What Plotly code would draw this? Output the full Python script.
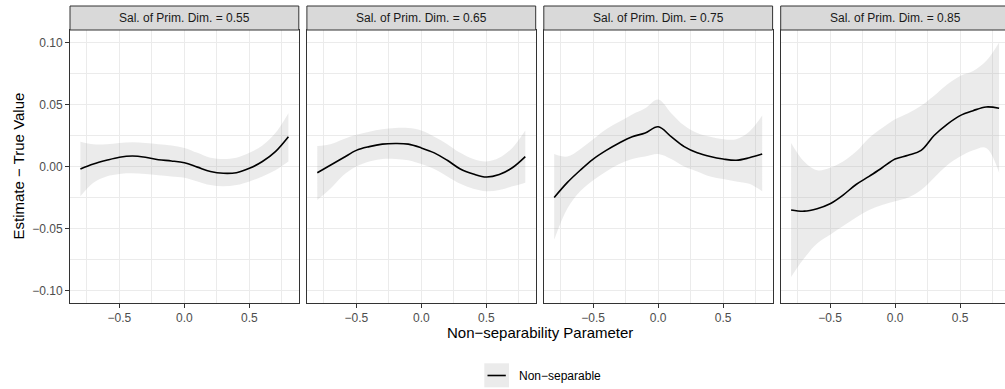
import plotly.graph_objects as go

# ---------------- data ----------------
x_vals = [-0.8, -0.7, -0.6, -0.5, -0.4, -0.3, -0.2, -0.1, 0.0,
          0.1, 0.2, 0.3, 0.4, 0.5, 0.6, 0.7, 0.8]

panel_labels = ["Sal. of Prim. Dim. = 0.55", "Sal. of Prim. Dim. = 0.65",
                "Sal. of Prim. Dim. = 0.75", "Sal. of Prim. Dim. = 0.85"]

est_055 = [-0.002, 0.002, 0.005, 0.0075, 0.0085, 0.0075, 0.0055, 0.0045, 0.003,
           -0.0005, -0.004, -0.0055, -0.005, -0.0015, 0.004, 0.012, 0.024]
lo_055 = [-0.024, -0.013, -0.008, -0.006, -0.0055, -0.006, -0.007, -0.008, -0.009,
          -0.012, -0.015, -0.016, -0.015, -0.012, -0.008, -0.003, 0.004]
hi_055 = [0.020, 0.018, 0.018, 0.019, 0.0195, 0.019, 0.018, 0.017, 0.015,
          0.011, 0.007, 0.006, 0.007, 0.011, 0.017, 0.027, 0.043]

est_065 = [-0.005, 0.001, 0.007, 0.013, 0.016, 0.018, 0.0185, 0.018, 0.015,
           0.011, 0.005, -0.002, -0.006, -0.0085, -0.0065, -0.001, 0.008]
lo_065 = [-0.027, -0.018, -0.007, 0.000, 0.004, 0.006, 0.006, 0.005, 0.002,
          -0.002, -0.008, -0.014, -0.018, -0.020, -0.019, -0.016, -0.013]
hi_065 = [0.0165, 0.018, 0.022, 0.0255, 0.028, 0.030, 0.031, 0.031, 0.029,
          0.024, 0.018, 0.011, 0.006, 0.004, 0.007, 0.015, 0.029]

est_075 = [-0.025, -0.013, -0.003, 0.006, 0.013, 0.019, 0.024, 0.027, 0.032,
           0.024, 0.016, 0.011, 0.008, 0.006, 0.005, 0.007, 0.010]
lo_075 = [-0.059, -0.034, -0.020, -0.011, -0.004, 0.002, 0.006, 0.008, 0.010,
          0.006, 0.000, -0.004, -0.008, -0.010, -0.012, -0.014, -0.020]
hi_075 = [0.010, 0.008, 0.014, 0.022, 0.030, 0.036, 0.042, 0.047, 0.054,
          0.043, 0.033, 0.027, 0.024, 0.022, 0.022, 0.028, 0.041]

est_085 = [-0.035, -0.036, -0.034, -0.030, -0.023, -0.0145, -0.008, -0.001, 0.006,
           0.009, 0.013, 0.025, 0.034, 0.041, 0.045, 0.048, 0.047]
lo_085 = [-0.089, -0.074, -0.062, -0.055, -0.048, -0.041, -0.035, -0.031, -0.028,
          -0.025, -0.019, -0.009, 0.001, 0.008, 0.013, 0.015, -0.005]
hi_085 = [0.019, 0.004, -0.003, -0.001, 0.004, 0.012, 0.023, 0.031, 0.038,
          0.043, 0.049, 0.057, 0.066, 0.073, 0.077, 0.085, 0.100]

estimates = [est_055, est_065, est_075, est_085]
lowers = [lo_055, lo_065, lo_075, lo_085]
uppers = [hi_055, hi_065, hi_075, hi_085]

x_ticks = [-0.5, 0.0, 0.5]
y_ticks = [-0.10, -0.05, 0.00, 0.05, 0.10]

# ---------------- layout geometry ----------------
W, H = 1005, 389
ML, MR, MT, MB = 70, 0, 30, 86
PW = W - ML - MR
PH = H - MT - MB
FONT = "Liberation Sans, Arial, sans-serif"

def px_x(px):
    return (px - ML) / PW

def px_y(py):
    return (H - MB - py) / PH

panel_w = 228.8
pitch = 236.9
x_lo, x_hi = -0.88, 0.88
scale = panel_w / (x_hi - x_lo)

fig = go.Figure()
layout = dict(
    width=W, height=H,
    margin=dict(l=ML, r=MR, t=MT, b=MB, pad=0),
    paper_bgcolor="white", plot_bgcolor="white",
    showlegend=False,
    font=dict(family=FONT, size=12, color="black"),
)

shapes = []
annotations = []

for i in range(4):
    n = "" if i == 0 else str(i + 1)
    left = ML + i * pitch
    right = left + panel_w
    vis_right = min(right, W)
    dom = [px_x(left), px_x(vis_right)]
    rng = [x_lo, x_lo + (vis_right - left) / scale]

    fig.add_trace(go.Scatter(
        x=x_vals, y=lowers[i], mode="lines", line=dict(width=0, shape="spline"),
        xaxis="x" + n, yaxis="y" + n, hoverinfo="skip"))
    fig.add_trace(go.Scatter(
        x=x_vals, y=uppers[i], mode="lines", line=dict(width=0, shape="spline"),
        fill="tonexty", fillcolor="rgba(153,153,153,0.2)",
        xaxis="x" + n, yaxis="y" + n, hoverinfo="skip"))
    fig.add_trace(go.Scatter(
        x=x_vals, y=estimates[i], mode="lines",
        line=dict(color="black", width=1.6, shape="spline"),
        xaxis="x" + n, yaxis="y" + n, name="Non\u2212separable"))

    layout["xaxis" + n] = dict(
        domain=dom, range=rng, anchor="y" + n,
        tickvals=x_ticks, tickformat=".1f",
        ticks="outside", ticklen=4, tickwidth=1, tickcolor="#333333",
        tickfont=dict(size=12, color="#4D4D4D", family=FONT),
        showline=True, linecolor="#333333", linewidth=1, mirror=True,
        showgrid=True, gridcolor="#EBEBEB", gridwidth=1.2, zeroline=False,
        minor=dict(tickvals=[-0.75, -0.25, 0.25, 0.75], showgrid=True,
                   gridcolor="#EBEBEB", gridwidth=0.7, ticks=""),
    )
    layout["yaxis" + n] = dict(
        domain=[0, 1], range=[-0.11, 0.11], anchor="x" + n,
        tickvals=y_ticks, tickformat=".2f",
        showticklabels=(i == 0),
        ticks="outside" if i == 0 else "", ticklen=4, tickwidth=1, tickcolor="#333333",
        tickfont=dict(size=12, color="#4D4D4D", family=FONT),
        showline=True, linecolor="#333333", linewidth=1, mirror=(i < 3),
        showgrid=True, gridcolor="#EBEBEB", gridwidth=1.2, zeroline=False,
        minor=dict(tickvals=[-0.075, -0.025, 0.025, 0.075], showgrid=True,
                   gridcolor="#EBEBEB", gridwidth=0.7, ticks=""),
    )
    if i > 0:
        layout["yaxis" + n]["matches"] = "y"

    # facet strip
    shapes.append(dict(type="rect", xref="paper", yref="paper",
                       x0=px_x(left), x1=px_x(right), y0=px_y(30), y1=px_y(6),
                       fillcolor="#D9D9D9", line=dict(color="#333333", width=1),
                       layer="above"))
    annotations.append(dict(text=panel_labels[i], xref="paper", yref="paper",
                            x=px_x((left + right) / 2), y=px_y(18.5),
                            xanchor="center", yanchor="middle", showarrow=False,
                            font=dict(size=12, color="#1A1A1A", family=FONT)))

# axis titles
annotations.append(dict(text="Non\u2212separability Parameter", xref="paper", yref="paper",
                        x=px_x((ML + ML + 3 * pitch + panel_w) / 2), y=px_y(332),
                        xanchor="center", yanchor="middle", showarrow=False,
                        font=dict(size=15, color="black", family=FONT)))
annotations.append(dict(text="Estimate \u2212 True Value", xref="paper", yref="paper",
                        x=px_x(18), y=px_y(166.5), textangle=-90,
                        xanchor="center", yanchor="middle", showarrow=False,
                        font=dict(size=15, color="black", family=FONT)))

# legend (bottom, centered)
shapes.append(dict(type="rect", xref="paper", yref="paper",
                   x0=px_x(484.3), x1=px_x(509), y0=px_y(387.3), y1=px_y(363.3),
                   fillcolor="#EBEBEB", line=dict(width=0)))
shapes.append(dict(type="line", xref="paper", yref="paper",
                   x0=px_x(487.5), x1=px_x(505.8), y0=px_y(375.5), y1=px_y(375.5),
                   line=dict(color="black", width=1.6)))
annotations.append(dict(text="Non\u2212separable", xref="paper", yref="paper",
                        x=px_x(516.5), y=px_y(375.5), xanchor="left", yanchor="middle",
                        showarrow=False, font=dict(size=12, color="black", family=FONT)))

layout["shapes"] = shapes
layout["annotations"] = annotations
fig.update_layout(**layout)

fig.write_html("out.html",
               config={"displayModeBar": False},
               post_script="document.body.style.margin='0';"
                           "document.body.style.padding='0';"
                           "document.body.style.overflow='hidden';")
